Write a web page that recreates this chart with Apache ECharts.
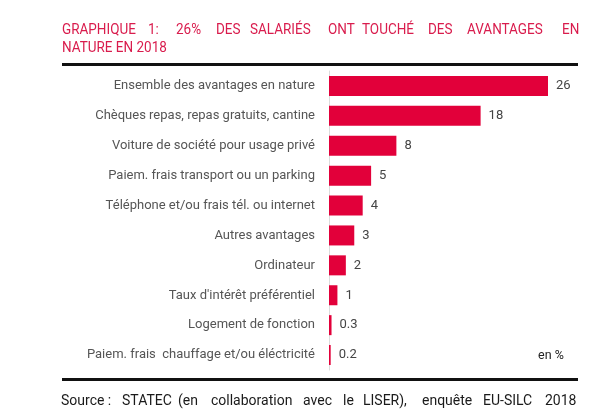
<!DOCTYPE html>
<html>
<head>
<meta charset="utf-8">
<script src="https://cdn.jsdelivr.net/npm/echarts@6/dist/echarts.min.js"></script>
<style>
html,body{margin:0;padding:0;background:#fff;}
#chart{width:600px;height:409px;}
</style>
</head>
<body>
<div id="chart"></div>
<script>
// catégories (de haut en bas)
var categories = [
	'Ensemble des avantages en nature',
	'Chèques repas, repas gratuits, cantine',
	'Voiture de société pour usage privé',
	'Paiem. frais transport ou un parking',
	'Téléphone et/ou frais tél. ou internet',
	'Autres avantages',
	'Ordinateur',
	"Taux d'intérêt préférentiel",
	'Logement de fonction',
	'Paiem. frais  chauffage et/ou éléctricité'
];
// en %
var values = [26, 18, 8, 5, 4, 3, 2, 1, 0.3, 0.2];

var titleLine1 = ['GRAPHIQUE', '1:', '26%', 'DES', 'SALARIÉS', 'ONT', 'TOUCHÉ', 'DES', 'AVANTAGES', 'EN'];
var titleLine2 = 'NATURE EN 2018';
var sourceWords = ['Source :', 'STATEC', '(en', 'collaboration', 'avec', 'le', 'LISER),', 'enquête', 'EU-SILC', '2018'];
var unitLabel = 'en %';

// positions des mots (texte justifié)
var titleX = [62, 148, 176, 216, 250, 328, 362, 428, 467, 562];
var sourceX = [61, 122, 178, 211, 303, 343, 363, 422, 483, 545];

var red = '#e2003a';
var titleColor = '#d91c4d';
var font = 'Roboto';

function word(txt, x, y, size, color, sx){
	return {type: 'text', x: x, y: y, scaleX: sx || 1,
		style: {text: txt, fill: color, font: size + 'px ' + font,
			textAlign: 'left', textVerticalAlign: 'middle', verticalAlign: 'middle'}};
}

var graphic = [];
titleLine1.forEach(function(w, i){
	graphic.push(word(w, titleX[i], 30.5, 15, titleColor, 0.9));
});
graphic.push(word(titleLine2, 62, 48.5, 15, titleColor, 0.9));
sourceWords.forEach(function(w, i){
	graphic.push(word(w, sourceX[i], 401, 14, '#1a1a1a'));
});
graphic.push(word(unitLabel, 538, 356, 12.5, '#222'));
// filets noirs
graphic.push({type: 'line', shape: {x1: 62, y1: 64.5, x2: 578, y2: 64.5},
	style: {stroke: '#111', lineWidth: 3}});
graphic.push({type: 'line', shape: {x1: 62, y1: 379.5, x2: 578, y2: 379.5},
	style: {stroke: '#111', lineWidth: 3}});

var myChart = echarts.init(document.getElementById('chart'));
var option = {
	animation: false,
	backgroundColor: '#fff',
	textStyle: {fontFamily: font},
	graphic: graphic,
	grid: {left: 329, right: 52, top: 71, bottom: 39, containLabel: false},
	xAxis: {
		type: 'value',
		min: 0,
		max: 26,
		show: false
	},
	yAxis: {
		type: 'category',
		data: categories,
		inverse: true,
		axisLine: {show: true, lineStyle: {color: '#dcdcdc', width: 1}},
		axisTick: {show: false},
		axisLabel: {color: '#555', fontSize: 13, margin: 14, fontFamily: font}
	},
	series: [{
		type: 'bar',
		data: values,
		barWidth: 20,
		itemStyle: {color: red},
		label: {
			show: true,
			position: 'right',
			distance: 8,
			color: '#444',
			fontSize: 13,
			fontFamily: font
		}
	}]
};
myChart.setOption(option);
</script>
</body>
</html>
